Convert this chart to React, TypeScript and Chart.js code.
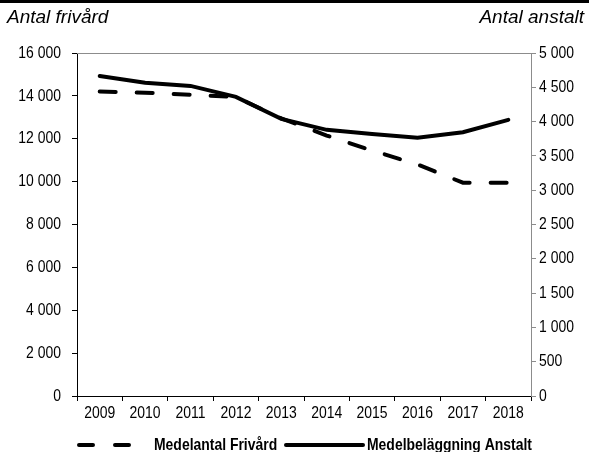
import React, { useEffect, useRef } from "react";
import { Chart, registerables } from "chart.js";

Chart.register(...registerables);

const years = ["2009", "2010", "2011", "2012", "2013", "2014", "2015", "2016", "2017", "2018"];
const frivard = [14200, 14150, 14050, 13950, 12950, 12150, 11450, 10800, 9950, 9950];
const anstalt = [4665, 4565, 4520, 4360, 4040, 3880, 3820, 3765, 3845, 4025];
const seriesLabels = ["Medelantal Frivård", "Medelbeläggning Anstalt"];
const axisTitles = ["Antal frivård", "Antal anstalt"];
const leftMax = 16000;
const leftStep = 2000;
const rightMax = 5000;
const rightStep = 500;

const REGULAR = '"Liberation Sans", Arial, sans-serif';
const NARROW_FACTOR = 0.82;

const fmt = (v: number) => String(v).replace(/\B(?=(\d{3})+(?!\d))/g, " ");

function narrowText(ctx: CanvasRenderingContext2D, txt: string, x: number, y: number, align: CanvasTextAlign, factor = NARROW_FACTOR) {
  ctx.save();
  ctx.translate(x, y);
  ctx.scale(factor, 1);
  ctx.textAlign = align;
  ctx.fillText(txt, 0, 0);
  ctx.restore();
}

const decorPlugin = {
  id: "decor",
  afterDraw(chart: any) {
    const { ctx, chartArea, scales } = chart;
    ctx.save();
    // top black rule
    ctx.fillStyle = "#000";
    ctx.fillRect(0, 0, chart.width, 3);
    // top frame line
    ctx.strokeStyle = "#8c8c8c";
    ctx.lineWidth = 1;
    ctx.beginPath();
    ctx.moveTo(chartArea.left, chartArea.top + 0.5);
    ctx.lineTo(chartArea.right, chartArea.top + 0.5);
    ctx.stroke();
    // axis titles
    ctx.fillStyle = "#000";
    ctx.font = `italic 19px ${REGULAR}`;
    ctx.textBaseline = "middle";
    ctx.textAlign = "left";
    ctx.fillText(axisTitles[0], 7, 18);
    ctx.textAlign = "right";
    ctx.fillText(axisTitles[1], 584, 18);
    // tick labels (narrow style) at the scales' own tick positions
    ctx.font = `17px ${REGULAR}`;
    ctx.textBaseline = "middle";
    const xs = scales.x;
    xs.ticks.forEach((t: any, i: number) => {
      narrowText(ctx, String(xs.getLabelForValue(t.value)), xs.getPixelForTick(i), 413, "center");
    });
    const yl = scales.yL;
    yl.ticks.forEach((t: any, i: number) => {
      narrowText(ctx, fmt(t.value), yl.left + yl.width - 16, yl.getPixelForTick(i), "right");
    });
    const yr = scales.yR;
    yr.ticks.forEach((t: any, i: number) => {
      narrowText(ctx, fmt(t.value), yr.left + 8, yr.getPixelForTick(i), "left");
    });
    // legend
    const ly = 445;
    ctx.strokeStyle = "#000";
    ctx.lineWidth = 4;
    ctx.lineCap = "round";
    ctx.setLineDash([14, 22]);
    ctx.beginPath();
    ctx.moveTo(79, ly);
    ctx.lineTo(130, ly);
    ctx.stroke();
    ctx.setLineDash([]);
    ctx.beginPath();
    ctx.moveTo(286, ly);
    ctx.lineTo(363, ly);
    ctx.stroke();
    ctx.font = `bold 17px ${REGULAR}`;
    ctx.textBaseline = "middle";
    narrowText(ctx, seriesLabels[0], 154, ly, "left");
    narrowText(ctx, seriesLabels[1], 367, ly, "left");
    ctx.restore();
  },
};

export default function App() {
  const ref = useRef<HTMLCanvasElement | null>(null);
  useEffect(() => {
    if (!ref.current) return;
    const chart = new Chart(ref.current, {
      type: "line",
      data: {
        labels: years,
        datasets: [
          {
            label: seriesLabels[0],
            data: frivard,
            yAxisID: "yL",
            borderColor: "#000",
            borderWidth: 4,
            borderDash: [16, 21],
            borderCapStyle: "round",
            pointRadius: 0,
            tension: 0,
            fill: false,
          },
          {
            label: seriesLabels[1],
            data: anstalt,
            yAxisID: "yR",
            borderColor: "#000",
            borderWidth: 4,
            borderCapStyle: "round",
            pointRadius: 0,
            tension: 0,
            fill: false,
          },
        ],
      },
      options: {
        animation: false,
        responsive: false,
        maintainAspectRatio: false,
        layout: { padding: { top: 53, left: 0, right: 0, bottom: 0 } },
        plugins: { legend: { display: false }, tooltip: { enabled: false }, title: { display: false } },
        scales: {
          x: {
            type: "category",
            offset: true,
            grid: { offset: true, drawOnChartArea: false, tickLength: 5, color: "#000" },
            border: { color: "#000", width: 1 },
            ticks: { display: false, autoSkip: false, maxRotation: 0 },
            afterFit: (s: any) => { s.height = 56; },
          },
          yL: {
            position: "left",
            min: 0,
            max: leftMax,
            grid: { drawOnChartArea: false, tickLength: 5, color: "#000" },
            border: { color: "#000", width: 1 },
            ticks: { display: false, stepSize: leftStep },
            afterFit: (s: any) => { s.width = 77; },
          },
          yR: {
            position: "right",
            min: 0,
            max: rightMax,
            grid: { drawOnChartArea: false, tickLength: 5, color: "#8c8c8c" },
            border: { color: "#8c8c8c", width: 1 },
            ticks: { display: false, stepSize: rightStep },
            afterFit: (s: any) => { s.width = 58; },
          },
        },
      } as any,
      plugins: [decorPlugin],
    });
    return () => chart.destroy();
  }, []);
  return (
    <div style={{ position: "fixed", left: 0, top: 0, width: 589, height: 452, background: "#fff" }}>
      <canvas ref={ref} width={589} height={452} style={{ display: "block", width: 589, height: 452 }} />
    </div>
  );
}
